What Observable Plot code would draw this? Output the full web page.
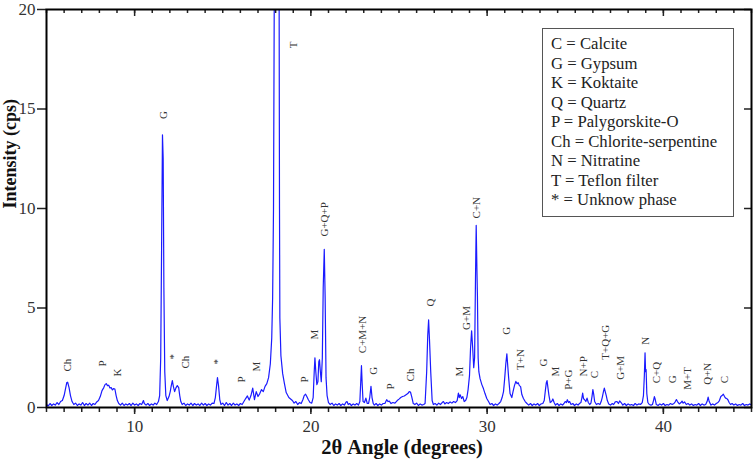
<!DOCTYPE html>
<html>
<head>
<meta charset="utf-8">
<script src="https://cdn.jsdelivr.net/npm/d3@7"></script>
<script src="https://cdn.jsdelivr.net/npm/@observablehq/plot@0.6"></script>
<style>
  body { margin: 0; background: #fff; }
  #wrap { position: relative; width: 754px; height: 468px; }
  #legend {
    position: absolute; left: 542px; top: 28px; width: 182px; height: 182px;
    border: 1px solid #555; background: #fff;
    font-family: "Liberation Serif", "Times New Roman", serif; font-size: 16.7px; line-height: 19.5px; color: #222;
    padding: 5px 0 0 8px; box-sizing: content-box;
  }
</style>
</head>
<body>
<div id="wrap"><div id="legend"></div></div>
<script>
// XRD pattern, [2θ (deg), intensity (cps)]
const spectrum = [
  [5.0,0.15],[5.1,0.08],[5.2,0.2],[5.3,0.1],[5.4,0.18],[5.5,0.12],[5.6,0.25],[5.7,0.15],[5.8,0.3],[5.9,0.35],
  [6.0,0.6],[6.08,0.95],[6.15,1.25],[6.2,1.27],[6.28,1.0],[6.36,0.6],[6.45,0.3],[6.55,0.15],[6.65,0.22],[6.75,0.1],
  [6.85,0.18],[6.95,0.12],[7.05,0.25],[7.15,0.1],[7.25,0.2],[7.35,0.12],[7.45,0.22],[7.55,0.1],[7.65,0.2],[7.75,0.15],
  [7.85,0.28],[7.95,0.35],[8.05,0.55],[8.15,0.85],[8.25,1.0],[8.32,1.15],[8.39,1.2],[8.46,1.1],[8.53,1.12],[8.6,0.98],
  [8.67,1.0],[8.74,0.88],[8.8,0.95],[8.88,0.93],[8.95,0.6],[9.02,0.35],[9.1,0.2],[9.2,0.12],[9.3,0.22],[9.4,0.1],
  [9.5,0.18],[9.6,0.12],[9.7,0.2],[9.8,0.1],[9.9,0.22],[10.0,0.12],[10.1,0.18],[10.2,0.1],[10.3,0.2],[10.4,0.15],
  [10.5,0.35],[10.55,0.2],[10.65,0.12],[10.75,0.2],[10.85,0.1],[10.95,0.18],[11.05,0.12],[11.15,0.22],[11.25,0.15],[11.35,0.3],
  [11.42,0.6],[11.48,2.5],[11.53,8],[11.58,13.7],[11.62,12.5],[11.66,6],[11.71,1.8],[11.77,0.6],[11.85,0.35],[11.95,0.55],
  [12.02,0.8],[12.08,1.1],[12.14,1.35],[12.2,1.05],[12.27,0.8],[12.35,1.0],[12.42,1.1],[12.5,1.0],[12.56,0.6],[12.62,0.3],
  [12.7,0.15],[12.8,0.22],[12.9,0.1],[13.0,0.18],[13.1,0.12],[13.2,0.22],[13.3,0.1],[13.4,0.2],[13.5,0.12],[13.6,0.18],
  [13.7,0.1],[13.8,0.22],[13.9,0.12],[14.0,0.2],[14.1,0.1],[14.2,0.18],[14.3,0.12],[14.4,0.22],[14.5,0.2],[14.58,0.5],
  [14.65,1.1],[14.7,1.5],[14.76,1.1],[14.83,0.4],[14.9,0.15],[15.0,0.22],[15.1,0.1],[15.2,0.25],[15.3,0.12],[15.4,0.2],
  [15.5,0.1],[15.6,0.22],[15.7,0.12],[15.8,0.18],[15.9,0.1],[16.0,0.2],[16.1,0.15],[16.2,0.3],[16.3,0.45],[16.4,0.58],
  [16.5,0.37],[16.6,0.6],[16.7,0.97],[16.8,0.4],[16.9,0.8],[17.0,0.55],[17.1,0.7],[17.2,0.9],[17.3,0.8],[17.4,1.06],
  [17.5,1.2],[17.6,1.5],[17.7,2.2],[17.78,3.5],[17.83,5.5],[17.88,10],[17.92,20],[17.97,40],[18.05,55],[18.13,40],
  [18.2,20],[18.22,10],[18.24,4.5],[18.3,2.6],[18.4,1.7],[18.5,1.2],[18.6,0.75],[18.75,0.5],[18.95,0.35],[19.05,0.22],
  [19.15,0.3],[19.25,0.15],[19.35,0.25],[19.45,0.2],[19.55,0.4],[19.62,0.6],[19.7,0.67],[19.77,0.55],[19.85,0.4],[19.95,0.25],
  [20.05,0.22],[20.13,0.5],[20.19,1.8],[20.23,2.5],[20.28,1.8],[20.34,1.15],[20.4,1.3],[20.45,2.3],[20.49,2.4],[20.53,1.9],
  [20.59,1.3],[20.65,2.5],[20.7,6.0],[20.76,7.95],[20.81,5.5],[20.86,1.5],[20.92,0.6],[21.0,0.25],[21.1,0.15],[21.2,0.22],
  [21.3,0.1],[21.4,0.18],[21.5,0.12],[21.6,0.2],[21.7,0.1],[21.8,0.18],[21.9,0.12],[22.0,0.28],[22.05,0.3],[22.12,0.15],
  [22.2,0.2],[22.3,0.1],[22.4,0.18],[22.5,0.12],[22.6,0.2],[22.7,0.12],[22.78,0.3],[22.83,1.3],[22.87,2.1],[22.91,1.2],
  [22.96,0.3],[23.04,0.25],[23.12,0.47],[23.2,0.2],[23.27,0.2],[23.34,0.5],[23.41,1.06],[23.47,0.5],[23.54,0.2],[23.6,0.12],
  [23.7,0.2],[23.8,0.1],[23.9,0.18],[24.0,0.12],[24.1,0.2],[24.2,0.2],[24.3,0.39],[24.38,0.3],[24.45,0.32],[24.55,0.2],
  [24.65,0.25],[24.77,0.22],[24.9,0.35],[25.0,0.42],[25.1,0.5],[25.2,0.55],[25.3,0.58],[25.4,0.64],[25.5,0.7],[25.58,0.8],
  [25.65,0.78],[25.72,0.55],[25.81,0.2],[25.9,0.15],[26.0,0.22],[26.1,0.1],[26.2,0.18],[26.3,0.12],[26.4,0.15],[26.48,0.2],
  [26.57,1.8],[26.63,3.6],[26.68,4.4],[26.73,3.4],[26.8,1.8],[26.88,0.35],[26.95,0.15],[27.05,0.2],[27.15,0.12],[27.25,0.22],
  [27.35,0.15],[27.45,0.25],[27.52,0.3],[27.6,0.18],[27.7,0.25],[27.8,0.2],[27.9,0.28],[28.0,0.22],[28.1,0.3],[28.2,0.25],
  [28.3,0.35],[28.37,0.72],[28.42,0.5],[28.47,0.64],[28.55,0.45],[28.62,0.55],[28.7,0.3],[28.78,0.35],[28.85,0.5],[28.92,0.9],
  [29.0,1.6],[29.06,3.0],[29.12,3.85],[29.18,3.0],[29.24,2.0],[29.29,2.5],[29.34,6.5],[29.38,9.15],[29.42,7.0],[29.45,5.6],
  [29.49,2.5],[29.53,1.8],[29.6,1.45],[29.7,1.15],[29.79,0.95],[29.88,0.7],[29.98,0.45],[30.08,0.3],[30.17,0.15],[30.27,0.2],
  [30.37,0.1],[30.47,0.18],[30.57,0.12],[30.67,0.2],[30.77,0.3],[30.85,0.5],[30.93,0.8],[31.0,1.5],[31.06,2.2],[31.12,2.7],
  [31.17,2.1],[31.22,1.5],[31.3,0.7],[31.4,0.5],[31.47,0.8],[31.55,1.1],[31.63,1.31],[31.7,1.2],[31.76,1.25],[31.83,1.1],
  [31.9,1.05],[31.97,0.65],[32.06,0.45],[32.16,0.3],[32.26,0.2],[32.36,0.12],[32.46,0.2],[32.56,0.1],[32.66,0.18],[32.76,0.12],
  [32.86,0.2],[32.96,0.1],[33.06,0.18],[33.16,0.2],[33.24,0.35],[33.31,0.9],[33.36,1.25],[33.4,1.35],[33.45,1.0],[33.51,0.6],
  [33.58,0.25],[33.66,0.3],[33.73,0.43],[33.8,0.25],[33.88,0.12],[33.98,0.2],[34.08,0.1],[34.18,0.18],[34.28,0.12],[34.36,0.2],
  [34.43,0.3],[34.5,0.25],[34.55,0.39],[34.62,0.25],[34.68,0.3],[34.76,0.15],[34.86,0.2],[34.96,0.1],[35.06,0.18],[35.16,0.12],
  [35.24,0.2],[35.32,0.25],[35.38,0.5],[35.42,0.72],[35.47,0.45],[35.53,0.39],[35.6,0.3],[35.67,0.47],[35.74,0.25],[35.82,0.15],
  [35.89,0.22],[35.95,0.55],[36.0,0.9],[36.05,0.65],[36.1,0.3],[36.2,0.15],[36.3,0.2],[36.4,0.15],[36.47,0.3],[36.53,0.5],
  [36.6,0.8],[36.65,0.97],[36.7,0.8],[36.76,0.6],[36.82,0.35],[36.9,0.18],[37.0,0.12],[37.1,0.2],[37.18,0.15],[37.27,0.28],
  [37.37,0.3],[37.45,0.2],[37.52,0.33],[37.6,0.25],[37.7,0.12],[37.8,0.2],[37.9,0.1],[38.0,0.18],[38.1,0.12],[38.2,0.15],
  [38.3,0.1],[38.4,0.2],[38.5,0.12],[38.6,0.18],[38.7,0.15],[38.8,0.25],[38.87,0.6],[38.92,1.6],[38.96,2.75],[38.99,1.8],
  [39.02,1.9],[39.06,0.7],[39.12,0.25],[39.2,0.15],[39.3,0.12],[39.38,0.15],[39.44,0.35],[39.49,0.55],[39.54,0.4],[39.6,0.15],
  [39.7,0.1],[39.8,0.18],[39.9,0.12],[40.0,0.2],[40.1,0.1],[40.2,0.15],[40.3,0.12],[40.4,0.2],[40.5,0.15],[40.6,0.2],
  [40.68,0.3],[40.74,0.4],[40.8,0.3],[40.9,0.18],[41.0,0.25],[41.06,0.32],[41.12,0.22],[41.2,0.28],[41.3,0.15],[41.4,0.2],
  [41.5,0.12],[41.6,0.18],[41.7,0.1],[41.8,0.15],[41.9,0.12],[42.0,0.2],[42.1,0.1],[42.2,0.18],[42.3,0.12],[42.4,0.15],
  [42.48,0.3],[42.54,0.52],[42.6,0.3],[42.7,0.12],[42.8,0.18],[42.9,0.12],[43.0,0.2],[43.1,0.25],[43.18,0.35],[43.26,0.55],
  [43.33,0.6],[43.4,0.67],[43.47,0.55],[43.53,0.47],[43.6,0.45],[43.66,0.39],[43.73,0.25],[43.81,0.15],[43.9,0.2],[44.0,0.12],
  [44.1,0.18],[44.2,0.1],[44.3,0.15],[44.4,0.12],[44.5,0.2],[44.6,0.1],[44.7,0.15],[44.8,0.12],[44.9,0.18],[45.0,0.12]
];

// Peak annotations: phase label, 2θ position, intensity at label base
const peakLabels = ["Ch","P","K","G","*","Ch","*","P","M","T","P","M","G+Q+P","C+M+N","G","P","Ch","Q","M","G+M","C+N","G","T+N","G","M","P+G","N+P","C","T+Q+G","G+M","N","C+Q","G","M+T","Q+N","C"];
const peakLabelX = [6.21,8.2,9.0,11.62,12.18,12.9,14.72,16.06,16.91,19.0,19.66,20.23,20.76,22.94,23.54,24.49,25.66,26.76,28.43,28.81,29.41,31.12,31.88,33.2,33.86,34.62,35.44,36.08,36.74,37.56,38.98,39.6,40.49,41.35,42.48,43.48];
const peakLabelY = [1.81,2.06,1.56,14.5,2.41,1.96,2.16,1.26,1.81,18.05,1.26,3.42,8.59,2.73,1.64,0.9,1.31,5.08,1.56,3.9,9.5,3.65,1.89,2.06,1.56,0.89,1.56,1.47,2.4,1.39,3.15,1.22,1.22,0.89,1.14,1.22];

const legendItems = ["C = Calcite","G = Gypsum","K = Koktaite","Q = Quartz","P = Palygorskite-O","Ch = Chlorite-serpentine","N = Nitratine","T = Teflon filter","* = Unknow phase"];

const xMajorTicks = [10,20,30,40];
const xMinorTicks = d3.range(5, 46, 1);
const yTicks = [0,5,10,15,20];

const W = 754, H = 468;
const mL = 46, mR = 3, mT = 9, mB = 61;
const frameW = W - mL - mR, frameH = H - mT - mB;
const FONT = "'Liberation Serif', 'Times New Roman', serif";

const labels = peakLabels.map((t, i) => ({t, x: peakLabelX[i], y: peakLabelY[i]}));

const chart = Plot.plot({
  width: W, height: H,
  marginLeft: mL, marginRight: mR, marginTop: mT, marginBottom: mB,
  style: {fontFamily: FONT, color: "#222", background: "white", overflow: "visible"},
  x: {domain: [5, 45]},
  y: {domain: [0, 20]},
  marks: [
    Plot.line(spectrum, {x: d => d[0], y: d => d[1], stroke: "#1a1aff", strokeWidth: 1.2, clip: true}),
    Plot.text(labels, {x: "x", y: "y", text: "t", rotate: -90, textAnchor: "start", lineAnchor: "middle", fontSize: 11, fill: "#333", fontFamily: FONT}),
    // bottom axis ticks and labels
    Plot.axisX({anchor: "bottom", ticks: xMinorTicks, tickSize: 5, tickFormat: () => "", label: null, strokeWidth: 1.5}),
    Plot.axisX({anchor: "bottom", ticks: xMajorTicks, tickSize: 7, tickPadding: 5, fontSize: 17, label: null, strokeWidth: 1.5, tickFormat: d => String(d), fill: "#333"}),
    // top inward ticks
    Plot.ruleX(xMinorTicks, {x: d => d, insetBottom: frameH - 4, strokeWidth: 1.5}),
    Plot.ruleX(xMajorTicks, {x: d => d, insetBottom: frameH - 7, strokeWidth: 1.5}),
    // left axis
    Plot.axisY({anchor: "left", ticks: yTicks, tickSize: 9, tickPadding: 2, fontSize: 17, label: null, strokeWidth: 1.5, tickFormat: d => String(d), fill: "#333"}),
    // right inward ticks
    Plot.ruleY(yTicks, {y: d => d, insetLeft: frameW - 7, strokeWidth: 1.5}),
    Plot.frame({stroke: "black", strokeWidth: 2}),
    Plot.text(["2θ Angle (degrees)"], {frameAnchor: "bottom", dy: 46, dx: 3, fontSize: 20.5, fontWeight: "bold", fill: "#111", fontFamily: FONT}),
    Plot.text(["Intensity (cps)"], {frameAnchor: "left", dx: -36, rotate: -90, fontSize: 18, fontWeight: "bold", fill: "#111", fontFamily: FONT})
  ]
});

const wrap = document.getElementById("wrap");
wrap.insertBefore(chart, wrap.firstChild);
document.getElementById("legend").innerHTML = legendItems.map(s => `<div>${s}</div>`).join("");
</script>
</body>
</html>
